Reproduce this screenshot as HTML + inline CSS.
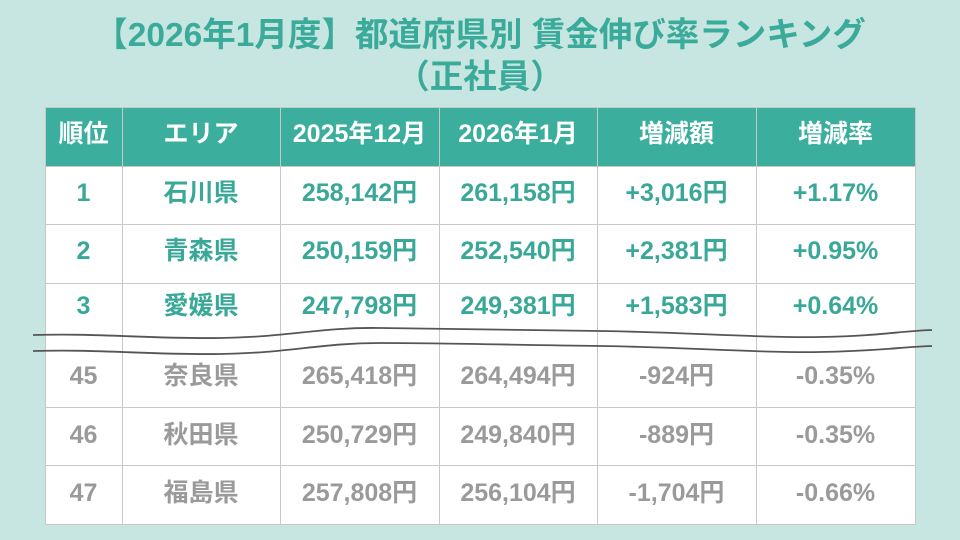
<!DOCTYPE html>
<html>
<head>
<meta charset="utf-8">
<style>
  html,body{margin:0;padding:0;}
  body{width:960px;height:540px;background:#c8e6e1;position:relative;overflow:hidden;
    font-family:"Liberation Sans","Noto Sans CJK JP",sans-serif;font-weight:bold;}
  .title{position:absolute;left:0;width:960px;text-align:center;color:#3aab9a;font-size:33.5px;line-height:42px;white-space:nowrap;}
  .tbl{position:absolute;left:45px;top:107px;width:869px;height:416px;background:#fff;border:1px solid #c8c8c8;}
  .hdr{position:absolute;left:46px;top:108px;width:869px;height:58px;background:#3bae9e;}
  .vl{position:absolute;top:107px;width:1px;height:418px;background:#c8c8c8;}
  .hl{position:absolute;left:45px;width:871px;height:1px;background:#c8c8c8;}
  .c{position:absolute;height:40px;line-height:40px;text-align:center;font-size:25px;white-space:nowrap;}
  .h{color:#fff;}
  .g{color:#3aa898;}
  .y{color:#9a9a9a;}
</style>
</head>
<body>
<div class="title" style="top:15px;">【2026年1月度】都道府県別 賃金伸び率ランキング</div>
<div class="title" style="top:57px;">（正社員）</div>

<div class="tbl"></div>
<div class="hdr"></div>

<!-- horizontal lines -->
<div class="hl" style="top:166px;"></div>
<div class="hl" style="top:224px;"></div>
<div class="hl" style="top:283px;"></div>
<div class="hl" style="top:407px;"></div>
<div class="hl" style="top:465px;"></div>

<!-- vertical lines -->
<div class="vl" style="left:122px;"></div>
<div class="vl" style="left:280px;"></div>
<div class="vl" style="left:439px;"></div>
<div class="vl" style="left:597px;"></div>
<div class="vl" style="left:756px;"></div>

<!-- header -->
<div class="c h" style="left:45px;width:77px;top:114px;">順位</div>
<div class="c h" style="left:122px;width:158px;top:114px;">エリア</div>
<div class="c h" style="left:280px;width:159px;top:114px;">2025年12月</div>
<div class="c h" style="left:439px;width:158px;top:114px;">2026年1月</div>
<div class="c h" style="left:597px;width:159px;top:114px;">増減額</div>
<div class="c h" style="left:756px;width:159px;top:114px;">増減率</div>

<!-- row 1 -->
<div class="c g" style="left:45px;width:77px;top:173px;">1</div>
<div class="c g" style="left:122px;width:158px;top:173px;">石川県</div>
<div class="c g" style="left:280px;width:159px;top:173px;">258,142円</div>
<div class="c g" style="left:439px;width:158px;top:173px;">261,158円</div>
<div class="c g" style="left:597px;width:159px;top:173px;">+3,016円</div>
<div class="c g" style="left:756px;width:159px;top:173px;">+1.17%</div>

<!-- row 2 -->
<div class="c g" style="left:45px;width:77px;top:231px;">2</div>
<div class="c g" style="left:122px;width:158px;top:231px;">青森県</div>
<div class="c g" style="left:280px;width:159px;top:231px;">250,159円</div>
<div class="c g" style="left:439px;width:158px;top:231px;">252,540円</div>
<div class="c g" style="left:597px;width:159px;top:231px;">+2,381円</div>
<div class="c g" style="left:756px;width:159px;top:231px;">+0.95%</div>

<!-- row 3 -->
<div class="c g" style="left:45px;width:77px;top:286px;">3</div>
<div class="c g" style="left:122px;width:158px;top:286px;">愛媛県</div>
<div class="c g" style="left:280px;width:159px;top:286px;">247,798円</div>
<div class="c g" style="left:439px;width:158px;top:286px;">249,381円</div>
<div class="c g" style="left:597px;width:159px;top:286px;">+1,583円</div>
<div class="c g" style="left:756px;width:159px;top:286px;">+0.64%</div>

<!-- row 45 -->
<div class="c y" style="left:45px;width:77px;top:356px;">45</div>
<div class="c y" style="left:122px;width:158px;top:356px;">奈良県</div>
<div class="c y" style="left:280px;width:159px;top:356px;">265,418円</div>
<div class="c y" style="left:439px;width:158px;top:356px;">264,494円</div>
<div class="c y" style="left:597px;width:159px;top:356px;">-924円</div>
<div class="c y" style="left:756px;width:159px;top:356px;">-0.35%</div>

<!-- row 46 -->
<div class="c y" style="left:45px;width:77px;top:415px;">46</div>
<div class="c y" style="left:122px;width:158px;top:415px;">秋田県</div>
<div class="c y" style="left:280px;width:159px;top:415px;">250,729円</div>
<div class="c y" style="left:439px;width:158px;top:415px;">249,840円</div>
<div class="c y" style="left:597px;width:159px;top:415px;">-889円</div>
<div class="c y" style="left:756px;width:159px;top:415px;">-0.35%</div>

<!-- row 47 -->
<div class="c y" style="left:45px;width:77px;top:473px;">47</div>
<div class="c y" style="left:122px;width:158px;top:473px;">福島県</div>
<div class="c y" style="left:280px;width:159px;top:473px;">257,808円</div>
<div class="c y" style="left:439px;width:158px;top:473px;">256,104円</div>
<div class="c y" style="left:597px;width:159px;top:473px;">-1,704円</div>
<div class="c y" style="left:756px;width:159px;top:473px;">-0.66%</div>

<!-- wave break lines -->
<svg width="960" height="540" style="position:absolute;left:0;top:0;" xmlns="http://www.w3.org/2000/svg">
  <path d="M33,335 C100,333 150,339 220,338 S320,327 380,328 S520,330 600,331 S760,338 820,337 S900,331 932,330" fill="none" stroke="#555" stroke-width="1.8"/>
  <path d="M33,351 C100,349 150,355 220,354 S320,343 380,343 S520,345 600,346 S760,353 820,352 S900,347 932,346" fill="none" stroke="#555" stroke-width="1.8"/>
</svg>
</body>
</html>
